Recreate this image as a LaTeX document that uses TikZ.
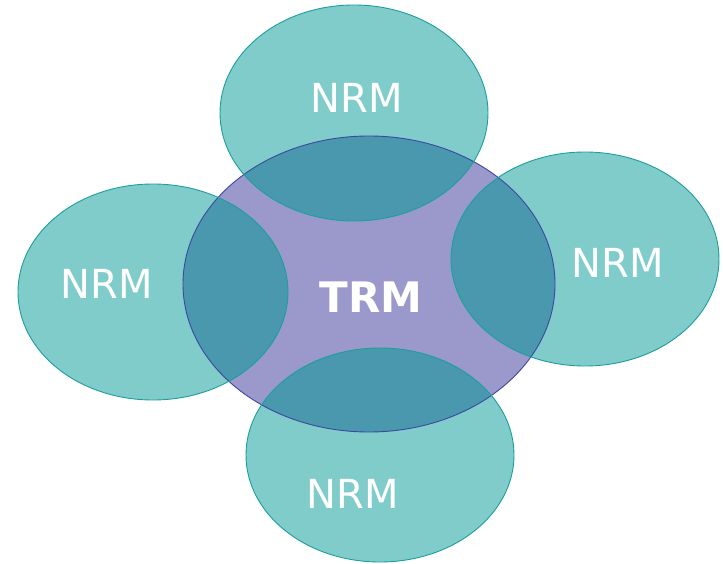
\documentclass[tikz,border=0pt]{standalone}
\usepackage{fontspec}
\setmainfont{DejaVu Sans}
\definecolor{nrmfill}{HTML}{80CCCB}
\definecolor{nrmedge}{HTML}{1C9E9E}
\definecolor{trmfill}{HTML}{9B99CB}
\definecolor{trmedge}{HTML}{3F46A0}
\definecolor{overlap}{HTML}{4A98AE}
\tikzset{
  nrmlabel/.style={text=white, font=\fontsize{40}{40}\selectfont, inner sep=0pt},
  trmlabel/.style={text=white, font=\fontsize{42}{42}\selectfont\bfseries, inner sep=0pt},
  nrmline/.style={draw=nrmedge, line width=0.9pt},
  trmline/.style={draw=trmedge, line width=0.9pt}
}
\newcommand{\trmshape}{(369,284) ellipse [x radius=186, y radius=148]}
\newcommand{\nrmtop}{(354,113) ellipse [x radius=134, y radius=108]}
\newcommand{\nrmright}{(585,259) ellipse [x radius=134, y radius=107]}
\newcommand{\nrmleft}{(153,292) ellipse [x radius=135, y radius=108]}
\newcommand{\nrmbottom}{(380,455) ellipse [x radius=134, y radius=107]}
\begin{document}
\begin{tikzpicture}[x=1pt,y=-1pt]
\useasboundingbox (0,0) rectangle (723,564);
% base fills
\fill[trmfill] \trmshape;
\fill[nrmfill] \nrmtop;
\fill[nrmfill] \nrmright;
\fill[nrmfill] \nrmleft;
\fill[nrmfill] \nrmbottom;
% overlaps of each NRM with the TRM
\begin{scope}
  \clip \trmshape;
  \fill[overlap] \nrmtop;
  \fill[overlap] \nrmright;
  \fill[overlap] \nrmleft;
  \fill[overlap] \nrmbottom;
\end{scope}
% outlines
\draw[trmline] \trmshape;
\draw[nrmline] \nrmtop;
\draw[nrmline] \nrmright;
\draw[nrmline] \nrmleft;
\draw[nrmline] \nrmbottom;
% labels
\node[nrmlabel] (ntop) at (357,98) {NRM};
\node[nrmlabel] (nleft) at (107,284) {NRM};
\node[nrmlabel] (nright) at (618,263) {NRM};
\node[nrmlabel] (nbottom) at (353,494) {NRM};
\node[trmlabel] (trm) at (371,297) {TRM};
\end{tikzpicture}
\end{document}
